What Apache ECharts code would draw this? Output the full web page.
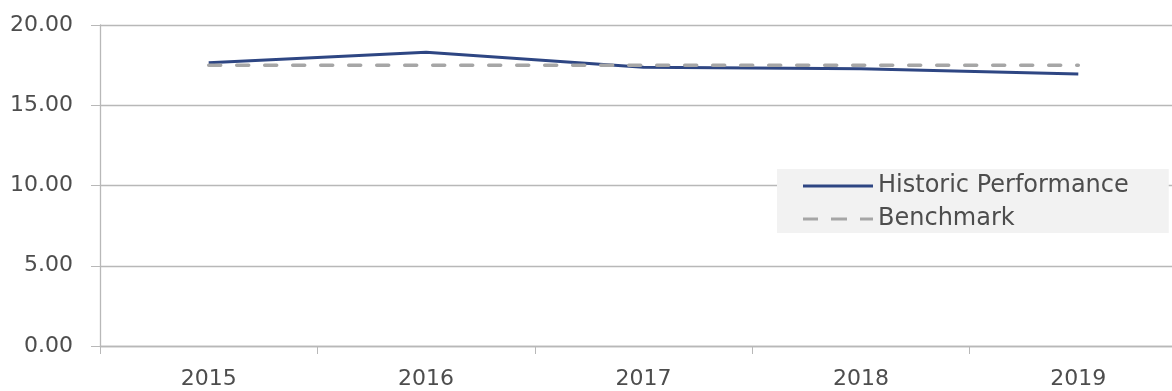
<!DOCTYPE html>
<html>
<head>
<meta charset="utf-8">
<script src="https://cdn.jsdelivr.net/npm/echarts@6/dist/echarts.min.js"></script>
<style>
  html, body { margin: 0; padding: 0; background: #fff; }
  #chart { width: 1172px; height: 391px; }
</style>
</head>
<body>
<div id="chart"></div>
<script>
// chart data
const years = ['2015', '2016', '2017', '2018', '2019'];
const historic = [17.65, 18.3, 17.37, 17.27, 16.95];
const benchmark = [17.5, 17.5, 17.5, 17.5, 17.5];

const font = 'DejaVu Sans';
const textColor = '#4d4d4d';
const lineGray = '#b8b8b8';

let chart = echarts.init(document.getElementById('chart'));
let option = {
  animation: false,
  grid: { left: 100, top: 25, width: 1087, bottom: 45, containLabel: false, outerBoundsMode: 'none' },
  legend: {
    orient: 'vertical',
    left: 777,
    top: 169,
    padding: [3, 40, 0, 26],
    backgroundColor: '#f2f2f2',
    itemWidth: 70,
    itemHeight: 14,
    itemGap: 5,
    textStyle: { fontFamily: font, fontSize: 24, color: textColor, lineHeight: 28 },
    data: [
      { name: 'Historic Performance', icon: 'path://M0,0 L70,0 L70,3 L0,3 Z' },
      { name: 'Benchmark', icon: 'path://M0,0 L15,0 L15,3 L0,3 Z M28,0 L44,0 L44,3 L28,3 Z M57,0 L70,0 L70,3 L57,3 Z' }
    ]
  },
  xAxis: {
    type: 'category',
    data: years,
    boundaryGap: true,
    axisLine: { lineStyle: { color: lineGray, width: 1.3 } },
    axisTick: { show: true, length: 8, lineStyle: { color: lineGray } },
    axisLabel: { fontFamily: font, fontSize: 22, color: textColor, margin: 22 }
  },
  yAxis: {
    type: 'value',
    min: 0,
    max: 20,
    interval: 5,
    axisLine: { show: true, lineStyle: { color: lineGray, width: 1.3 } },
    axisTick: { show: true, length: 9, lineStyle: { color: lineGray } },
    splitLine: { lineStyle: { color: lineGray, width: 1.3 } },
    axisLabel: {
      fontFamily: font, fontSize: 22, color: textColor, margin: 27,
      formatter: v => v.toFixed(2)
    }
  },
  series: [
    {
      name: 'Benchmark',
      type: 'line',
      data: benchmark,
      symbol: 'none',
      z: 2,
      lineStyle: { color: '#a6a6a6', width: 3.5, type: [12, 16], cap: 'round' },
      itemStyle: { color: '#a6a6a6' }
    },
    {
      name: 'Historic Performance',
      type: 'line',
      data: historic,
      symbol: 'none',
      z: 1,
      lineStyle: { color: '#2e4683', width: 3 },
      itemStyle: { color: '#2e4683' }
    }
  ]
};
chart.setOption(option);
</script>
</body>
</html>
